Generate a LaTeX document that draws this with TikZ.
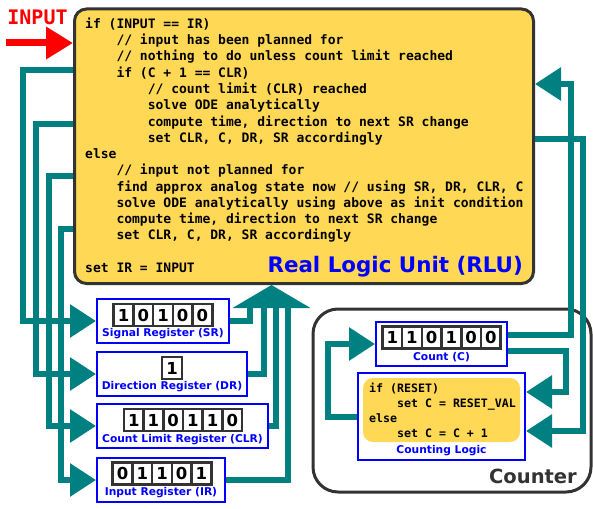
\documentclass[tikz,border=0pt]{standalone}
\usepackage{fontspec}
\setmainfont{DejaVu Sans}
\newfontfamily\codefont{DejaVu Sans Mono}
\usetikzlibrary{arrows.meta}
\definecolor{rluyellow}{HTML}{FFD955}
\definecolor{wiregreen}{HTML}{008080}
\definecolor{edgegray}{HTML}{333333}
\definecolor{regblue}{HTML}{0000FF}
\newcommand{\indt}{\phantom{0000}}

\begin{document}
\begin{tikzpicture}[x=1pt, y=-1pt,
  rlu/.style={draw=edgegray, line width=3pt, fill=rluyellow, rounded corners=12pt, inner sep=0},
  regbox/.style={draw=regblue, line width=2pt, fill=white, minimum height=44pt, inner sep=0},
  bitcell/.style={draw=edgegray, line width=2.6pt, fill=white, minimum width=19.7pt, minimum height=22pt, inner sep=0, font=\fontsize{16.5}{17}\selectfont\bfseries},
  reglabel/.style={text=regblue, font=\fontsize{10.7}{12}\selectfont\bfseries, inner sep=0},
  code/.style={font=\codefont\fontsize{13}{16.27}\selectfont\bfseries, align=left, anchor=base west, inner sep=0},
  wire/.style={draw=wiregreen, line width=6pt},
  feed/.style={wire, -{Triangle[width=32pt, length=26pt]}}
]
\useasboundingbox (0,0) rectangle (593,508);

% real logic unit
\node[rlu, minimum width=459pt, minimum height=274.5pt] (rlu) at (304,146.25) {};
\node[code] (rlucode) at (85,272.5) {if (INPUT == IR)\\
\indt // input has been planned for\\
\indt // nothing to do unless count limit reached\\
\indt if (C + 1 == CLR)\\
\indt\indt // count limit (CLR) reached\\
\indt\indt solve ODE analytically\\
\indt\indt compute time, direction to next SR change\\
\indt\indt set CLR, C, DR, SR accordingly\\
else\\
\indt // input not planned for\\
\indt find approx analog state now // using SR, DR, CLR, C\\
\indt solve ODE analytically using above as init condition\\
\indt compute time, direction to next SR change\\
\indt set CLR, C, DR, SR accordingly\\[16.27pt]
set IR = INPUT};
\node[text=regblue, font=\fontsize{21.4}{22}\selectfont\bfseries, anchor=base east, inner sep=0] (rlutitle) at (523,272) {Real Logic Unit (RLU)};

% input
\coordinate (in) at (6,43);
\node[text=red, font=\codefont\fontsize{20}{20}\selectfont\bfseries, inner sep=0] (inlabel) at (37.5,17.5) {INPUT};
\draw[draw=red, line width=7pt, -{Triangle[width=31pt, length=27pt]}] (in) -- (rlu.west |- in);

% registers
\node[regbox, minimum width=132pt] (sr) at (163,321) {};
\node[regbox, minimum width=150pt] (dr) at (172,374) {};
\node[regbox, minimum width=171pt] (clr) at (182.5,426) {};
\node[regbox, minimum width=128pt] (ir) at (161,480) {};
\foreach \b [count=\i from 0] in {1,0,1,0,0}
  \node[bitcell] (sr\i) at (123.6+19.7*\i,315) {\b};
\node[bitcell] (dr0) at (172,368) {1};
\foreach \b [count=\i from 0] in {1,1,0,1,1,0}
  \node[bitcell] (clr\i) at (133.75+19.7*\i,420) {\b};
\foreach \b [count=\i from 0] in {0,1,1,0,1}
  \node[bitcell] (ir\i) at (122.6+19.7*\i,473.5) {\b};
\node[reglabel] (srlabel) at (163,334) {Signal Register (SR)};
\node[reglabel] (drlabel) at (172,387) {Direction Register (DR)};
\node[reglabel] (clrlabel) at (182.5,439.5) {Count Limit Register (CLR)};
\node[reglabel] (irlabel) at (161,493) {Input Register (IR)};

% counter
\node[draw=edgegray, line width=3pt, rounded corners=25pt, minimum width=278pt, minimum height=183pt] (counter) at (452,400.5) {};
\node[text=edgegray, font=\fontsize{19.5}{20}\selectfont\bfseries, anchor=base east, inner sep=0] (countertitle) at (577,483) {Counter};
\node[regbox, minimum width=131pt] (count) at (441.5,344) {};
\foreach \b [count=\i from 0] in {1,1,0,1,0,0}
  \node[bitcell] (count\i) at (392.25+19.7*\i,337.5) {\b};
\node[reglabel] (countlabel) at (441.5,357) {Count (C)};
\node[regbox, minimum width=167pt, minimum height=87pt] (logic) at (441.5,416.5) {};
\node[fill=rluyellow, rounded corners=10pt, minimum width=157pt, minimum height=64pt, inner sep=0] (logiccore) at (441.5,410) {};
\node[code, font=\codefont\fontsize{11.6}{14.7}\selectfont\bfseries] (logiccode) at (369,437) {if (RESET)\\
\indt set C = RESET\_VAL\\
else\\
\indt set C = C + 1};
\node[reglabel] (logiclabel) at (441.5,451) {Counting Logic};

% RLU to registers
\draw[feed] (rlu.west |- 0,70) -| (22.5,321) -- (sr.west);
\draw[feed] (rlu.west |- 0,123.5) -| (36,374) -- (dr.west);
\draw[feed] (rlu.west |- 0,175.5) -| (49,426) -- (clr.west);
\draw[feed] (rlu.west |- 0,229) -| (61,480) -- (ir.west);

% registers back to RLU
\coordinate (merge) at (271.5,308);
\draw[wire] (sr.east) -| (250,307);
\draw[wire] (dr.east) -| (264,307);
\draw[wire] (clr.east) -| (276,307);
\draw[wire] (ir.east) -| (288,307);
\draw[feed, -{Triangle[width=77pt, length=23pt]}] (merge) -- (merge |- rlu.south);

% RLU and counter
\draw[feed] (rlu.east |- 0,139) -| (583,431) -- (logic.east |- 0,431);
\draw[feed] (count.east |- 0,335) -| (571,84) -- (rlu.east |- 0,84);
\draw[feed] (count.east |- 0,351) -| (566,392) -- (logic.east |- 0,392);
\draw[feed] (logic.west) -| (328,344) -- (count.west);
\end{tikzpicture}
\end{document}
